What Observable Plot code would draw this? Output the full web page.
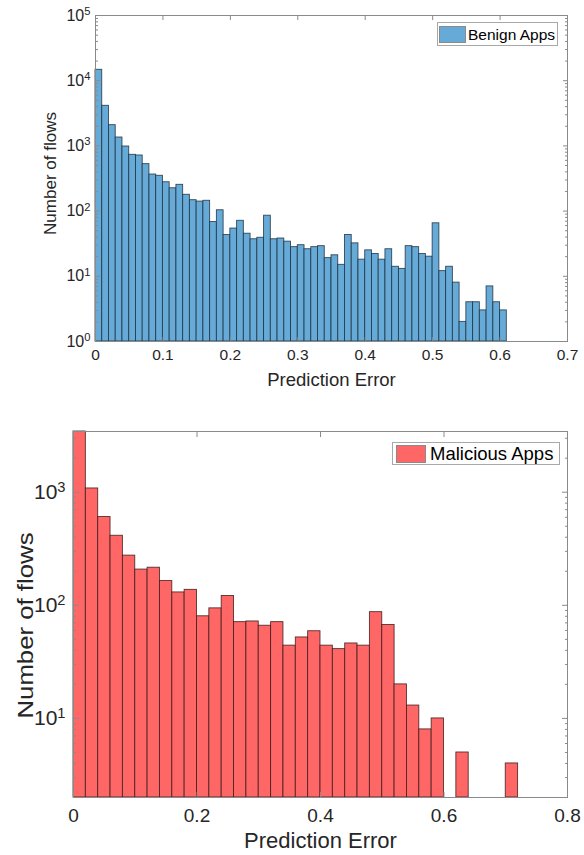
<!DOCTYPE html>
<html><head><meta charset="utf-8">
<script src="https://cdn.jsdelivr.net/npm/d3@7"></script>
<script src="https://cdn.jsdelivr.net/npm/@observablehq/plot@0.6"></script>
<style>
body{margin:0;background:#fff;font-family:"Liberation Sans",Arial,Helvetica,sans-serif;}
#wrap{position:relative;width:584px;height:855px;overflow:hidden;}
#wrap svg{display:block;}
.lg{position:absolute;box-sizing:border-box;}
.lbox{border:1px solid #a8a8a8;background:#fff;}
.lsw{border:1px solid #8a8a8a;}
.ltx{color:#000;white-space:nowrap;line-height:1;}
</style></head><body><div id="wrap"></div>
<script>
// ---------- data ----------
const xTitle = "Prediction Error";
const yTitle = "Number of flows";
const benignLabel = "Benign Apps";
const maliciousLabel = "Malicious Apps";

const benignBinWidth = 0.01;
const benignCounts = [14700,4120,2080,1345,979,730,713,525,364,348,277,224,253,178,147,140,144,68,103,43,54,71,45,37,39,85,37,38,34,28,30,26,28,29,19,21,15,43,32,18,25,22,18,26,14,13,29,28,22,20,65,12,14,8,2,4,4,3,7,4,3,0,1,0,0,0,1];
const benignXTicks = [0,0.1,0.2,0.3,0.4,0.5,0.6,0.7];
const benignXDomain = [0,0.7];
const benignYDomain = [1,1e5];

const maliciousBinWidth = 0.02;
const maliciousCounts = [3440,1079,604,412,275,207,215,164,130,137,80,94,121,71,72,66,71,44,52,59,44,41,46,44,87,67,20,13,8,10,2,5,2,0,0,4];
const maliciousXTicks = [0,0.2,0.4,0.6,0.8];
const maliciousXDomain = [0,0.8];
const maliciousYDomain = [2,3440];

// ---------- helpers ----------
const FONT = '"Liberation Sans", Arial, Helvetica, sans-serif';
const AXIS = "#8a8a8a";
const TEXT = "#262626";

function logTicks(lo, hi){
  const major=[], minor=[];
  for(let e=Math.floor(Math.log10(lo)); e<=Math.ceil(Math.log10(hi)); e++){
    const p=Math.pow(10,e);
    if(p>=lo && p<=hi) major.push(p);
    for(let k=2;k<=9;k++){ const v=k*p; if(v>=lo && v<=hi) minor.push(v); }
  }
  return {major, minor};
}

function histChart(o){
  const data = o.counts.map((c,i)=>({x1:i*o.binWidth, x2:(i+1)*o.binWidth, b:o.yDomain[0], c}))
                       .filter(d=>d.c>0);
  const {major, minor} = logTicks(o.yDomain[0], o.yDomain[1]);
  const fmtY = d => `10^${Math.round(Math.log10(d))}`;
  return Plot.plot({
    width:o.width, height:o.height,
    marginTop:o.mt, marginBottom:o.mb, marginLeft:o.ml, marginRight:o.mr,
    style:{fontFamily:FONT, color:TEXT, background:"white", overflow:"visible"},
    x:{domain:o.xDomain},
    y:{type:"log", domain:o.yDomain},
    marks:[
      Plot.rectY(data,{x1:"x1", x2:"x2", y1:"b", y2:"c", fill:o.fill, stroke:o.stroke, strokeWidth:0.9, strokeOpacity:0.85}),
      Plot.frame({stroke:AXIS}),
      Plot.axisX({anchor:"bottom", ticks:o.xTicks, tickFormat:d=>String(d), tickSize:-o.xTickLen, tickPadding:o.xPad, fontSize:o.tickFont, stroke:AXIS, fill:TEXT, label:null}),
      Plot.axisX({anchor:"top", ticks:o.xTicks, tickSize:-o.xTickLen, fill:"none", stroke:AXIS, label:null}),
      Plot.axisY({anchor:"left", ticks:major, tickFormat:fmtY, tickSize:-o.majorLen, tickPadding:o.yPad, fontSize:o.yTickFont, stroke:AXIS, fill:TEXT, label:null}),
      Plot.axisY({anchor:"left", ticks:minor, tickSize:-o.minorLen, fill:"none", stroke:AXIS, label:null}),
      Plot.axisY({anchor:"right", ticks:major, tickSize:-o.majorLen, fill:"none", stroke:AXIS, label:null}),
      Plot.axisY({anchor:"right", ticks:minor, tickSize:-o.minorLen, fill:"none", stroke:AXIS, label:null}),
      Plot.text([xTitle],{text:d=>d, frameAnchor:"bottom", dy:o.xTitleDy, fontSize:o.xTitleFont, fill:TEXT, textAnchor:"middle", lineAnchor:"middle"}),
      Plot.text([yTitle],{text:d=>d, frameAnchor:"left", rotate:-90, dx:o.yTitleDx, dy:o.yTitleDy, fontSize:o.yTitleFont, fill:TEXT, textAnchor:"middle", lineAnchor:"middle"})
    ]
  });
}

function superscript(svg){
  svg.querySelectorAll("text").forEach(t=>{
    const m = /^10\^(-?\d+)$/.exec(t.textContent);
    if(!m) return;
    t.textContent = "10";
    const ts = document.createElementNS("http://www.w3.org/2000/svg","tspan");
    ts.setAttribute("dy","-0.5em");
    ts.setAttribute("font-size","0.7em");
    ts.textContent = m[1];
    t.appendChild(ts);
  });
}

function stretchYTitle(svg, s){
  svg.querySelectorAll("text").forEach(t=>{
    if(t.textContent !== yTitle) return;
    const tr = t.getAttribute("transform");
    if(tr) t.setAttribute("transform", tr + ` scale(${s},1)`);
  });
}

function legend(wrap, box, sw, tx, label, color, font){
  const b=document.createElement("div"); b.className="lg lbox";
  Object.assign(b.style,{left:box[0]+"px",top:box[1]+"px",width:box[2]+"px",height:box[3]+"px"});
  const s=document.createElement("div"); s.className="lg lsw";
  Object.assign(s.style,{left:sw[0]+"px",top:sw[1]+"px",width:sw[2]+"px",height:sw[3]+"px",background:color});
  const t=document.createElement("div"); t.className="lg ltx"; t.textContent=label;
  Object.assign(t.style,{left:tx[0]+"px",top:tx[1]+"px",fontSize:font+"px"});
  wrap.append(b,s,t);
}

const wrap = document.getElementById("wrap");

const top1 = histChart({
  counts:benignCounts, binWidth:benignBinWidth, xDomain:benignXDomain, xTicks:benignXTicks, yDomain:benignYDomain,
  fill:"#66aad7", stroke:"#1e2f40",
  width:584, height:400, mt:15, mb:59, ml:95, mr:17,
  xTickLen:4, xPad:11, tickFont:15.5, majorLen:5, minorLen:3, yPad:10, yTickFont:16,
  xTitleDy:39, xTitleFont:18.5, yTitleDx:-45, yTitleDy:-5, yTitleFont:17
});
superscript(top1);
wrap.appendChild(top1);

const bot = histChart({
  counts:maliciousCounts, binWidth:maliciousBinWidth, xDomain:maliciousXDomain, xTicks:maliciousXTicks, yDomain:maliciousYDomain,
  fill:"#ff6666", stroke:"#3a1a1a",
  width:584, height:455, mt:31, mb:58, ml:73, mr:17,
  xTickLen:5, xPad:16, tickFont:19, majorLen:6, minorLen:3, yPad:14, yTickFont:21,
  xTitleDy:43, xTitleFont:22, yTitleDx:-48, yTitleDy:11, yTitleFont:23
});
superscript(bot);
stretchYTitle(bot, 1.12);
wrap.appendChild(bot);

legend(wrap,[437,22,121,24],[439,25.5,27,17],[468,26.5],benignLabel,"#66aad7",15.5);
legend(wrap,[392,442,168,23],[396,444.5,30,18],[430,444.5],maliciousLabel,"#ff6666",18.5);
</script></body></html>
